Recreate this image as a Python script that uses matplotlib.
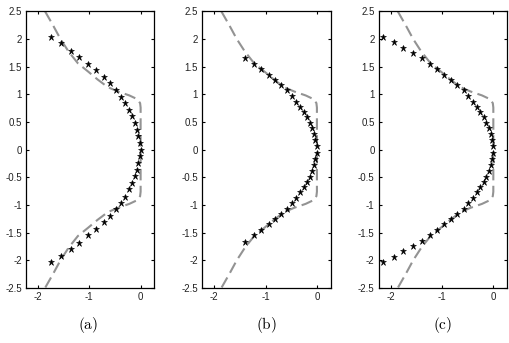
import matplotlib
matplotlib.use("Agg")
import matplotlib.pyplot as plt
import numpy as np

plt.rcParams['axes.unicode_minus'] = False
plt.rcParams['mathtext.fontset'] = 'cm'

# shared reference boundary (dashed), upper half from top; lower half mirrored
ref_x_upper = [-1.86, -1.70, -1.56, -1.40, -1.22, -1.02, -0.84, -0.64, -0.44, -0.22, -0.06, -0.01, 0.0, 0.0]
ref_y_upper = [2.5, 2.24, 2.0, 1.77, 1.56, 1.41, 1.27, 1.13, 1.05, 0.98, 0.91, 0.84, 0.76, 0.0]

# panel (a) points, upper half from top
a_x = [-1.74, -1.54, -1.35, -1.19, -1.02, -0.87, -0.72, -0.60, -0.48, -0.38, -0.31, -0.23, -0.16, -0.10, -0.07, -0.05, -0.02, 0.0]
a_y = [2.03, 1.92, 1.79, 1.68, 1.55, 1.44, 1.31, 1.20, 1.08, 0.96, 0.85, 0.72, 0.60, 0.48, 0.36, 0.24, 0.12, 0.0]

# panel (b) points, upper half from top
b_x = [-1.40, -1.23, -1.09, -0.94, -0.81, -0.70, -0.58, -0.49, -0.40, -0.32, -0.25, -0.19, -0.14, -0.09, -0.05, -0.03, 0.0]
b_y = [1.66, 1.55, 1.45, 1.35, 1.26, 1.17, 1.07, 0.97, 0.87, 0.77, 0.68, 0.59, 0.49, 0.39, 0.28, 0.17, 0.06]

# panel (c) points, upper half from top
c_x = [-2.14, -1.93, -1.75, -1.57, -1.39, -1.24, -1.09, -0.96, -0.83, -0.70, -0.58, -0.49, -0.40, -0.32, -0.25, -0.19, -0.14, -0.09, -0.05, -0.03, 0.0]
c_y = [2.03, 1.94, 1.84, 1.74, 1.65, 1.55, 1.45, 1.35, 1.26, 1.16, 1.07, 0.97, 0.87, 0.77, 0.68, 0.59, 0.49, 0.39, 0.28, 0.17, 0.06]

panel_labels = ['(a)', '(b)', '(c)']
y_ticks = [-2.5, -2, -1.5, -1, -0.5, 0, 0.5, 1, 1.5, 2, 2.5]
y_ticklabels = ['-2.5', '-2', '-1.5', '-1', '-0.5', '0', '0.5', '1', '1.5', '2', '2.5']
x_ticks = [-2, -1, 0]
x_ticklabels = ['-2', '-1', '0']


def mirror(xs, ys):
    xs = list(xs); ys = list(ys)
    if ys[-1] == 0.0:
        lx = xs[-2::-1]; ly = [-v for v in ys[-2::-1]]
    else:
        lx = xs[::-1]; ly = [-v for v in ys[::-1]]
    return np.array(xs + lx), np.array(ys + ly)


W, H = 510, 343
fig = plt.figure(figsize=(W / 100, H / 100), dpi=100)

lefts = [26, 202.3, 378.7]
axw = 128.5
top_px, bot_px = 11.3, 288
label_x = [88, 266, 443]

rx, ry = mirror(ref_x_upper, ref_y_upper)
datasets = [(a_x, a_y), (b_x, b_y), (c_x, c_y)]

for i, (px, py) in enumerate(datasets):
    ax = fig.add_axes([lefts[i] / W, 1 - bot_px / H, axw / W, (bot_px - top_px) / H])
    ax.plot(rx, ry, color='#939393', lw=1.5, dashes=(5.5, 2.6))
    mx, my = mirror(px, py)
    ax.plot(mx, my, linestyle='none', marker='*', markersize=4.6, color='black',
            markeredgewidth=0.4, markeredgecolor='black')
    ax.set_xlim(-2.23, 0.27)
    ax.set_ylim(-2.5, 2.5)
    ax.set_xticks(x_ticks)
    ax.set_xticklabels(x_ticklabels)
    ax.set_yticks(y_ticks)
    ax.set_yticklabels(y_ticklabels)
    ax.tick_params(direction='in', length=2.5, width=0.8, top=True, right=True,
                   labelsize=7, colors='black', pad=3)
    for lab in ax.get_xticklabels() + ax.get_yticklabels():
        lab.set_family('Liberation Sans')
        lab.set_color('#222222')
    for s in ax.spines.values():
        s.set_linewidth(0.9)
    fig.text(label_x[i] / W, 1 - 325 / H, r'$\mathrm{' + panel_labels[i] + '}$',
             ha='center', va='center', fontsize=11)

fig.savefig('out.png', dpi=100)
